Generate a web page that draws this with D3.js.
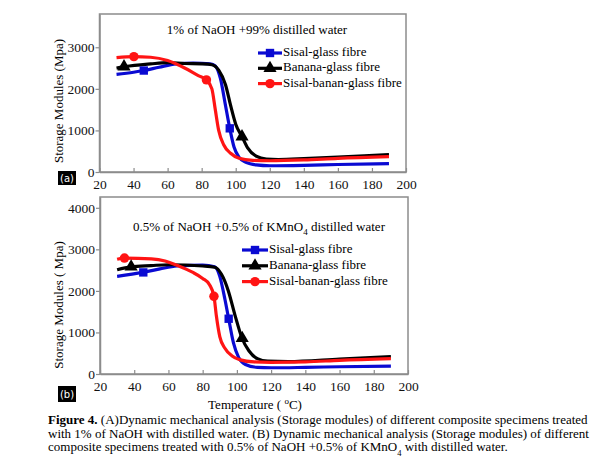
<!DOCTYPE html>
<html>
<head>
<meta charset="utf-8">
<script src="https://cdn.jsdelivr.net/npm/d3@7"></script>
<style>
  body { margin: 0; background: #fff; }
  svg { display: block; }
  svg text { font-family: "Liberation Serif", "DejaVu Serif", serif; }
  svg text.tag { font-family: "DejaVu Sans", sans-serif; }
</style>
</head>
<body>
<svg id="drawing_region"></svg>
<script>
// x ticks shared by both panels
const xTicks = [20, 40, 60, 80, 100, 120, 140, 160, 180, 200];

// panel (a): 1% NaOH + 99% distilled water  -- [temperature, modulus]
const sisalA = [[30,2350],[40,2400],[46,2440],[55,2520],[65,2600],[75,2620],[85,2600],[88,2550],[91,2250],[94,1600],[96.5,1050],[99,600],[102,350],[106,230],[112,170],[120,150],[140,160],[160,180],[190,200]];
const bananaA = [[30,2500],[35,2535],[50,2600],[60,2630],[70,2610],[80,2600],[86,2580],[90,2450],[94,2100],[97,1600],[100,1150],[103.7,850],[107,580],[112,380],[118,310],[125,300],[140,320],[160,360],[190,420]];
const hybridA = [[30,2750],[40,2775],[50,2760],[60,2680],[70,2500],[78,2320],[82.8,2215],[86,2000],[88,1500],[90,1000],[93,650],[97,450],[102,330],[110,280],[120,270],[140,290],[160,330],[190,370]];
const markSisalA = [[46,2440],[96.5,1050]];
const markBananaA = [[34.4,2535],[103.7,850]];
const markHybridA = [[40.2,2775],[82.8,2215]];

// panel (b): 0.5% NaOH + 0.5% KMnO4 distilled water
const sisalB = [[30,2350],[45,2445],[55,2530],[65,2600],[80,2620],[87,2580],[90,2350],[93,1800],[95.2,1330],[98,750],[101,400],[105,230],[112,160],[120,150],[140,160],[160,175],[190,190]];
const bananaB = [[30,2510],[38,2580],[50,2610],[60,2630],[80,2600],[87,2570],[91,2400],[95,2000],[99,1400],[103,860],[107,560],[112,370],[118,310],[130,300],[160,360],[190,420]];
const hybridB = [[30,2760],[34.3,2790],[50,2770],[58,2720],[66,2600],[74,2450],[80,2300],[84,2150],[86.6,1870],[88,1400],[90,900],[93,620],[97,440],[102,340],[110,290],[120,280],[140,290],[160,330],[190,370]];
const markSisalB = [[45.3,2445],[95.2,1330]];
const markBananaB = [[38.2,2580],[103.1,860]];
const markHybridB = [[34.3,2790],[86.6,1870]];

const seriesNames = ["Sisal-glass fibre", "Banana-glass fibre", "Sisal-banan-glass fibre"];
const seriesColors = ["#0a0ad2", "#000000", "#ff1414"];
const seriesSymbols = [d3.symbolSquare, d3.symbolTriangle, d3.symbolCircle];

const svg = d3.select("#drawing_region").attr("width", 608).attr("height", 463);

function drawPanel(cfg) {
    const xscale = d3.scaleLinear().domain([20, 200]).range([cfg.left, cfg.right]);
    const yscale = d3.scaleLinear().domain([0, cfg.ymax]).range([cfg.bottom, cfg.top]);
    const g = svg.append("g");

    // frame
    g.append("rect")
        .attr("x", cfg.left).attr("y", cfg.top)
        .attr("width", cfg.right - cfg.left).attr("height", cfg.bottom - cfg.top)
        .attr("fill", "none").attr("stroke", "#8c8c8c").attr("stroke-width", 1.5);

    const xaxis = d3.axisBottom(xscale).tickValues(xTicks).tickFormat(d3.format("d"))
        .tickSizeInner(-4).tickSizeOuter(0).tickPadding(7);
    const yaxis = d3.axisLeft(yscale).tickValues(cfg.yTicks).tickFormat(d3.format("d"))
        .tickSizeInner(4).tickSizeOuter(0).tickPadding(1);

    const xg = g.append("g").attr("transform", `translate(0,${cfg.bottom})`).call(xaxis);
    const yg = g.append("g").attr("transform", `translate(${cfg.left},0)`).call(yaxis);
    [xg, yg].forEach(a => {
        a.attr("font-family", null).attr("font-size", null);
        a.select(".domain").attr("stroke", "#8c8c8c").attr("stroke-width", 1.5);
        a.selectAll(".tick line").attr("stroke", "#8c8c8c").attr("stroke-width", 1.2);
        a.selectAll(".tick text").attr("font-size", 13.5).attr("fill", "#111");
    });

    const line = d3.line().x(d => xscale(d[0])).y(d => yscale(d[1])).curve(d3.curveMonotoneX);

    cfg.series.forEach((s, i) => {
        g.append("path").datum(s)
            .attr("d", line).attr("fill", "none")
            .attr("stroke", seriesColors[i]).attr("stroke-width", 3.2)
            .attr("stroke-linejoin", "round");
    });
    cfg.marks.forEach((m, i) => {
        g.selectAll(null).data(m).join("path")
            .attr("transform", d => `translate(${xscale(d[0])},${yscale(d[1])})`)
            .attr("d", d3.symbol().type(seriesSymbols[i]).size(i === 1 ? 75 : 70))
            .attr("fill", seriesColors[i]);
    });

    // title
    const t = g.append("text").attr("x", cfg.titleX).attr("y", cfg.titleY)
        .attr("text-anchor", "middle").attr("font-size", 13).attr("dominant-baseline", "middle");
    cfg.title.forEach(p => {
        const ts = t.append("tspan").text(p.text);
        if (p.sub) ts.attr("font-size", 9).attr("baseline-shift", "sub");
    });

    // legend
    seriesNames.forEach((name, i) => {
        const ly = cfg.legY + i * cfg.legStep;
        g.append("line").attr("x1", cfg.legX).attr("x2", cfg.legX + cfg.legLen)
            .attr("y1", ly).attr("y2", ly)
            .attr("stroke", seriesColors[i]).attr("stroke-width", 3.2);
        g.append("path")
            .attr("transform", `translate(${cfg.legX + cfg.legLen / 2},${ly})`)
            .attr("d", d3.symbol().type(seriesSymbols[i]).size(i === 1 ? 75 : 70))
            .attr("fill", seriesColors[i]);
        g.append("text").attr("x", cfg.legX + cfg.legLen + 1).attr("y", ly)
            .attr("dominant-baseline", "middle").attr("font-size", 13).text(name);
    });

    // y label
    g.append("text")
        .attr("transform", `translate(${cfg.ylabX},${cfg.ylabY}) rotate(-90)`)
        .attr("text-anchor", "middle").attr("dominant-baseline", "middle")
        .attr("font-size", 13).text(cfg.ylabel);

    // panel tag
    g.append("rect").attr("x", 58).attr("y", cfg.tagY).attr("width", 18).attr("height", cfg.tagH).attr("fill", "#000");
    g.append("text").attr("class", "tag").attr("x", 67).attr("y", cfg.tagY + cfg.tagH / 2 + 0.5)
        .attr("text-anchor", "middle").attr("dominant-baseline", "middle")
        .attr("font-size", 10).attr("fill", "#fff").text(cfg.tag);
}

drawPanel({
    left: 99.5, right: 406, top: 14, bottom: 172, ymax: 3800, yTicks: [0, 1000, 2000, 3000],
    series: [sisalA, bananaA, hybridA], marks: [markSisalA, markBananaA, markHybridA],
    title: [{ text: "1% of NaOH +99% distilled water" }], titleX: 257, titleY: 31,
    legX: 258, legLen: 24, legY: 53, legStep: 15.3,
    ylabel: "Storage Modules (Mpa)", ylabX: 60, ylabY: 101,
    tag: "(a)", tagY: 171, tagH: 14
});

drawPanel({
    left: 100, right: 408, top: 197, bottom: 374, ymax: 4260, yTicks: [0, 1000, 2000, 3000, 4000],
    series: [sisalB, bananaB, hybridB], marks: [markSisalB, markBananaB, markHybridB],
    title: [{ text: "0.5% of NaOH +0.5% of KMnO" }, { text: "4", sub: true }, { text: " distilled water" }],
    titleX: 259, titleY: 228,
    legX: 242, legLen: 26, legY: 250, legStep: 15.8,
    ylabel: "Storage Modules ( Mpa)", ylabX: 60.5, ylabY: 305,
    tag: "(b)", tagY: 386, tagH: 16
});

// x axis title
const xt = svg.append("text").attr("x", 255).attr("y", 409).attr("text-anchor", "middle").attr("font-size", 13);
xt.append("tspan").text("Temperature ( ");
xt.append("tspan").attr("font-size", 9).attr("baseline-shift", "super").text("o");
xt.append("tspan").text("C)");

// caption
const capLines = [
    [{ text: "Figure 4.", bold: true }, { text: " (A)Dynamic mechanical analysis (Storage modules) of different composite specimens treated" }],
    [{ text: "with 1% of NaOH with distilled water. (B) Dynamic mechanical analysis (Storage modules) of different" }],
    [{ text: "composite specimens treated with 0.5% of NaOH +0.5% of KMnO" }, { text: "4", sub: true }, { text: " with distilled water." }]
];
capLines.forEach((parts, i) => {
    const t = svg.append("text").attr("x", 48).attr("y", 424 + i * 13.5).attr("font-size", 13);
    parts.forEach(p => {
        const ts = t.append("tspan").text(p.text);
        if (p.bold) ts.attr("font-weight", "bold");
        if (p.sub) ts.attr("font-size", 8.5).attr("baseline-shift", "sub");
    });
});
</script>
</body>
</html>
